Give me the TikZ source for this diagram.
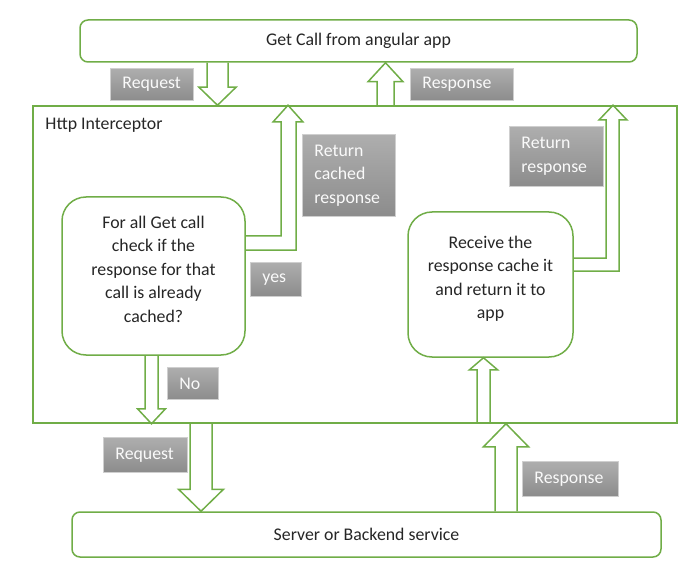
\documentclass[tikz,border=0pt]{standalone}
\usepackage{fontspec}
\setmainfont{Carlito}
\usepackage{xcolor}
\usepackage{tikz}
\usetikzlibrary{positioning,calc}

\definecolor{appgreen}{HTML}{70AD47}
\definecolor{taghi}{HTML}{AEAEAE}
\definecolor{taglo}{HTML}{8C8C8C}
\definecolor{tagedge}{HTML}{CFCFCF}
\definecolor{inktext}{HTML}{262626}

\tikzset{
  flowbox/.style={draw=appgreen, line width=1.5pt, fill=white, rounded corners=8pt,
    align=center, text=inktext, inner sep=0pt},
  decbox/.style={flowbox, rounded corners=24pt, text depth=14pt},
  hollow/.style={draw=appgreen, line width=1.5pt, line join=miter},
  tag/.style={draw=tagedge, line width=0.8pt, top color=taghi, bottom color=taglo,
    text=white!96!gray, align=left, anchor=north west, inner xsep=12pt, inner ysep=0pt}
}

% vertical hollow block arrow: tail, tip, shaft half width, head half width, head length
\newcommand{\blockarrow}[5]{%
  \draw[hollow] let \p1=#1, \p2=#2, \n1={sign(\y2-\y1)} in
    ({\x1-#3pt},\y1) -- ({\x1-#3pt},{\y2-\n1*#5pt}) -- ({\x1-#4pt},{\y2-\n1*#5pt})
    -- (\x1,\y2) -- ({\x1+#4pt},{\y2-\n1*#5pt}) -- ({\x1+#3pt},{\y2-\n1*#5pt})
    -- ({\x1+#3pt},\y1);}

\begin{document}
\begin{tikzpicture}[x=1pt, y=-1pt, font=\fontsize{17.8}{23.5}\selectfont]
    \useasboundingbox (0,0) rectangle (696,580);

    % Boxes
    \node[flowbox, minimum width=557pt, minimum height=42pt] (app) at (358.5,41) {Get Call from angular app};
    \node[draw=appgreen, line width=1.5pt, minimum width=644pt, minimum height=317pt] (icpt) at (355,264.5) {};
    \node[anchor=base west, inner sep=0pt, text=inktext] (icpttitle) at ($(icpt.north west)+(13,24)$) {Http Interceptor};
    \node[decbox, minimum width=183pt, minimum height=158pt] (check) at (153.5,276)
        {For all Get call\\check if the\\response for that\\call is already\\cached?};
    \node[decbox, minimum width=165pt, minimum height=145pt] (recv) at (490.5,284.5)
        {Receive the\\response cache it\\and return it to\\app};
    \node[flowbox, minimum width=589pt, minimum height=45pt] (server) at (366.5,534.5) {Server or Backend service};

    % Arrows between app and interceptor
    \blockarrow{(217.5,0 |- app.south)}{(217.5,0 |- icpt.north)}{10.5}{18.5}{18}
    \blockarrow{(385.5,0 |- icpt.north)}{(385.5,0 |- app.south)}{8.5}{17.5}{19}

    % Cached response goes back up
    \draw[hollow] (check.east |- 0,236) -- (281,236) -- (281,122) -- (273,122)
        -- (288,0 |- icpt.north) -- (303,122) -- (296,122) -- (296,250) -- (check.east |- 0,250);
    \draw[hollow] (recv.east |- 0,258) -- (606,258) -- (606,120) -- (599,120)
        -- (613,0 |- icpt.north) -- (627,120) -- (619,120) -- (619,271) -- (recv.east |- 0,271);

    % Not cached: down to server and back
    \blockarrow{(151.5,0 |- check.south)}{(151.5,0 |- icpt.south)}{6.5}{14}{15}
    \blockarrow{(483.5,0 |- icpt.south)}{(483.5,0 |- recv.south)}{6.5}{14}{12}
    \blockarrow{(201,0 |- icpt.south)}{(201,0 |- server.north)}{11}{22.5}{22}
    \blockarrow{(506,0 |- server.north)}{(506,0 |- icpt.south)}{11}{22.5}{23}

    % Labels
    \node[tag, text width=59pt, minimum height=32pt] (reqtop) at (110,68) {Request};
    \node[tag, text width=79pt, minimum height=32pt] (resptop) at (410,68) {Response};
    \node[tag, text width=69pt, minimum height=82pt] (cachedtag) at (302,134) {Return\\cached\\response};
    \node[tag, text width=27pt, minimum height=34pt] (yestag) at (250,262) {yes};
    \node[tag, text width=27pt, minimum height=32pt] (notag) at (167,367) {No};
    \node[tag, text width=70pt, minimum height=60pt] (rettag) at (509,126) {Return\\response};
    \node[tag, text width=60pt, minimum height=35pt] (reqbot) at (103,437) {Request};
    \node[tag, text width=72pt, minimum height=35pt] (respbot) at (522,461) {Response};
\end{tikzpicture}
\end{document}
